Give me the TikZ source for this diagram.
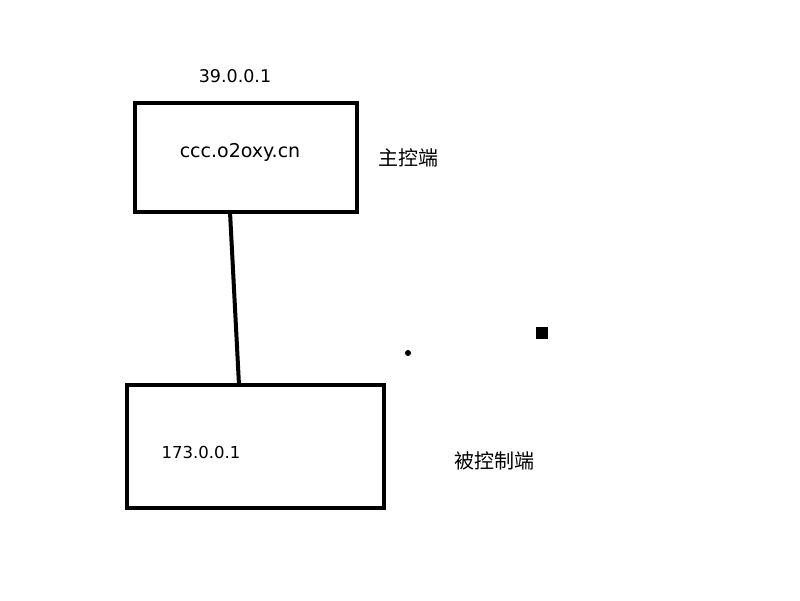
\documentclass[tikz,border=0pt]{standalone}
\usepackage{fontspec}
\setmainfont{DejaVu Sans}
\newfontfamily\cjk{Noto Sans CJK SC}
\begin{document}
\begin{tikzpicture}[x=1pt,y=-1pt,
  hostbox/.style={draw=black,line width=4pt,minimum width=0pt,inner sep=0pt},
  lbl/.style={inner sep=0pt},
  cjklbl/.style={inner sep=0pt}]
\useasboundingbox[fill=white] (0,0) rectangle (800,600);
\node[hostbox,minimum width=222pt,minimum height=109pt] (top) at (246,157.5) {};
\node[hostbox,minimum width=257pt,minimum height=123pt] (bot) at (255.5,446.5) {};
\coordinate (ta) at (230,212);
\coordinate (ba) at (239,385);
\draw[line width=4pt] (ta) -- (ba);
\node[lbl,font=\fontsize{17.5}{20}\selectfont] (ip1) at (235,76) {39.0.0.1};
\node[lbl,font=\fontsize{19}{22}\selectfont] (dom) at (240,152) {ccc.o2oxy.cn};
\node[lbl,font=\fontsize{16.5}{20}\selectfont] (ip2) at (201,452) {173.0.0.1};
\node[cjklbl,font=\cjk\fontsize{20}{22}\selectfont] (m) at (408,158) {主控端};
\node[cjklbl,font=\cjk\fontsize{20}{22}\selectfont] (s) at (494,461) {被控制端};
\fill (408,353) circle (3pt);
\fill (536,327) rectangle (548,339);
\end{tikzpicture}
\end{document}
